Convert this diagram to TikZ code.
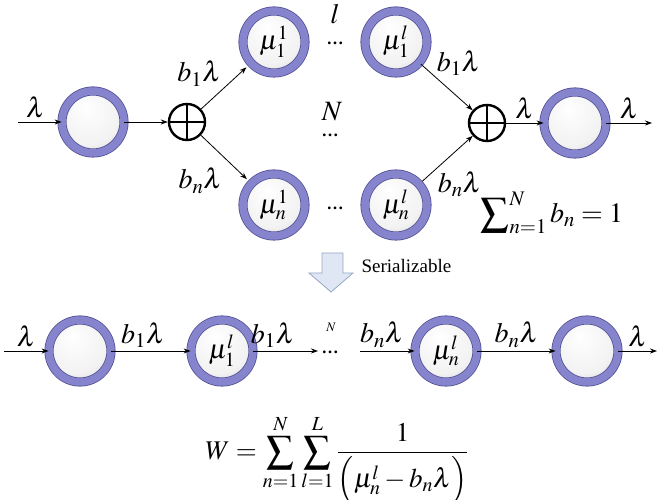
\documentclass[tikz,border=0pt]{standalone}
\usepackage{amsmath}
\usepackage{mathptmx}
\usepackage{fontspec}
\setmainfont{Liberation Serif}
\usetikzlibrary{arrows.meta,positioning,calc}
\definecolor{ringblue}{RGB}{134,132,204}
\definecolor{ringdark}{RGB}{84,82,150}
\definecolor{serfill}{RGB}{222,231,243}
\definecolor{serdraw}{RGB}{150,166,196}
\pgfdeclareradialshading{bulb}{\pgfpoint{-6bp}{12bp}}{color(0bp)=(white); color(24bp)=(black!5); color(40bp)=(black!20); color(50bp)=(black!30)}

\begin{document}
\begin{tikzpicture}[x=1pt, y=1pt,
  >={Stealth[length=7pt,width=5pt]},
  queue/.style={circle, minimum size=62pt, inner sep=0pt, draw=ringdark, line width=0.8pt,
    double=ringblue, double distance=7.5pt, shading=bulb,
    font=\fontsize{27}{29}\selectfont},
  adder/.style={circle, draw, line width=2.4pt, minimum size=36pt, inner sep=0pt,
    path picture={\draw[line width=2.4pt] (path picture bounding box.north) -- (path picture bounding box.south)
      (path picture bounding box.west) -- (path picture bounding box.east);}},
  flow/.style={->, line width=0.8pt},
  lab/.style={font=\fontsize{28}{30}\selectfont},
  dots/.style={font=\fontsize{17}{19}\selectfont\bfseries, anchor=base}]
  \useasboundingbox (0,0) rectangle (659,500);
  % parallel network
  \coordinate (src) at (18,378);
  \node[queue] (in) at (93,378) {};
  \node[adder] (splitter) at (187,378) {};
  \node[queue] (q11) at (274,458) {$\mu_1^1$};
  \node[queue] (q1l) at (396,458) {$\mu_1^l$};
  \node[queue] (qn1) at (274,295) {$\mu_n^1$};
  \node[queue] (qnl) at (396,295) {$\mu_n^l$};
  \node[adder] (merger) at (487,377) {};
  \node[queue] (out) at (575,377) {};
  \coordinate (sink) at (652,377);
  \draw[flow] (src) -- node[lab, above, pos=0.4]{$\lambda$} (in);
  \draw[flow] (in) -- (splitter);
  \draw[flow, shorten >=6pt] (splitter) -- node[lab, above left, inner sep=2pt, pos=0.45]{$b_1\lambda$} (q11);
  \draw[flow, shorten >=6pt] (splitter) -- node[lab, below left, inner sep=6pt, pos=0.55]{$b_n\lambda$} (qn1);
  \draw[flow, shorten <=2pt] (q1l) -- node[lab, above right, inner sep=1pt, pos=0.3]{$b_1\lambda$} (merger);
  \draw[flow, shorten <=4pt] (qnl) -- node[lab, below right, inner sep=2pt, pos=0.3]{$b_n\lambda$} (merger);
  \draw[flow] (merger) -- node[lab, above]{$\lambda$} (out);
  \draw[flow] (out) -- node[lab, above]{$\lambda$} (sink);
  \node[dots] (rowdots1) at (335,455) {\ldots};
  \node[lab] (lidx) at (335,486) {$l$};
  \node[lab] (nidx) at (332,388) {$N$};
  \node[dots] (coldots) at (330,363) {\ldots};
  \node[dots] (rowdotsn) at (335,290) {\ldots};
  \node[font=\fontsize{28}{30}\selectfont] (norm) at (552,287) {$\displaystyle\sum\nolimits_{n=1}^{N} b_n = 1$};
  % serialization step
  \draw[serdraw, fill=serfill, line width=0.8pt] (322,247) -- (343,247) -- (343,227) -- (353,227)
    -- (331,208) -- (309,227) -- (322,227) -- cycle;
  \node[anchor=west, font=\fontsize{19}{21}\selectfont] (serial) at (358,234) {Serializable};
  % serial network
  \coordinate (src2) at (4,149);
  \node[queue] (s0) at (80,149) {};
  \node[queue] (s1) at (222,149) {$\mu_1^l$};
  \coordinate (gapL) at (318,149);
  \coordinate (gapR) at (360,149);
  \node[queue] (s2) at (446,149) {$\mu_n^l$};
  \node[queue] (s3) at (587,149) {};
  \coordinate (sink2) at (657,149);
  \draw[flow] (src2) -- node[lab, above]{$\lambda$} (s0);
  \draw[flow] (s0) -- node[lab, above, pos=0.4]{$b_1\lambda$} (s1);
  \draw[flow] (s1) -- node[lab, above, pos=0.3]{$b_1\lambda$} (gapL);
  \node[font=\fontsize{13}{15}\selectfont] (nsmall) at (331,173) {$N$};
  \node[dots] (sdots) at (330,146) {\ldots};
  \draw[flow] (gapR) -- node[lab, above, pos=0.4]{$b_n\lambda$} (s2);
  \draw[flow] (s2) -- node[lab, above]{$b_n\lambda$} (s3);
  \draw[flow] (s3) -- node[lab, above]{$\lambda$} (sink2);
  \node[font=\fontsize{27}{29}\selectfont] (wait) at (337,40) {$W=\displaystyle\sum_{n=1}^{N}\sum_{l=1}^{L}\frac{1}{\Bigl(\mu_n^l-b_n\lambda\Bigr)}$};
\end{tikzpicture}
\end{document}
